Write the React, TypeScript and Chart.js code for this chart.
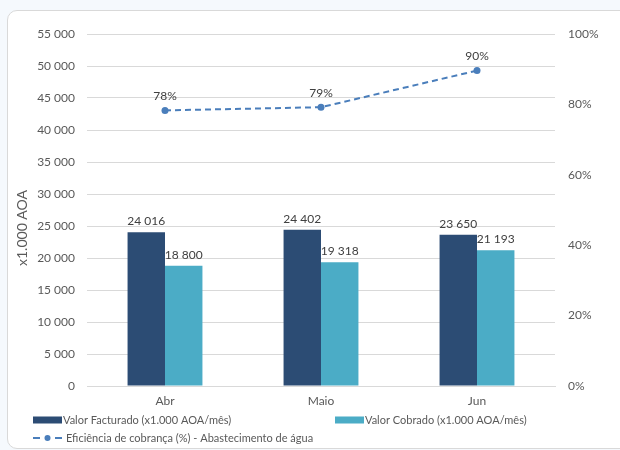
import React, { useEffect, useRef } from "react";
import { Chart, registerables } from "chart.js";

Chart.register(...registerables);

const categories = ["Abr", "Maio", "Jun"];
const facturado = [24016, 24402, 23650];
const cobrado = [18800, 19318, 21193];
const eficiencia = [78.3, 79.2, 89.6];
const eficienciaLabels = ["78%", "79%", "90%"];
const axisTitle = "x1.000 AOA";
const legendNames = [
  "Valor Facturado (x1.000 AOA/mês)",
  "Valor Cobrado (x1.000 AOA/mês)",
  "Eficiência de cobrança (%) - Abastecimento de água",
];

const DARK = "#2c4c74";
const LIGHT = "#4bacc6";
const LINE = "#4a7ebb";
const TEXT = "#595959";
const FONT = "Lato, 'Open Sans', sans-serif";

const fmt = (v: number) => {
  const s = Math.round(v).toString();
  return s.replace(/\B(?=(\d{3})+(?!\d))/g, " ");
};

const labelsPlugin = {
  id: "customLabels",
  afterDatasetsDraw(chart: any) {
    const ctx = chart.ctx;
    ctx.save();
    ctx.font = `12px ${FONT}`;
    ctx.fillStyle = "#404040";
    ctx.textAlign = "center";
    ctx.textBaseline = "bottom";
    [0, 1].forEach((di) => {
      const meta = chart.getDatasetMeta(di);
      meta.data.forEach((el: any, i: number) => {
        const v = chart.data.datasets[di].data[i];
        ctx.fillText(fmt(v), el.x, el.y - 5);
      });
    });
    const lm = chart.getDatasetMeta(2);
    lm.data.forEach((el: any, i: number) => {
      ctx.fillText(eficienciaLabels[i], el.x, el.y - 8);
    });
    ctx.restore();
  },
  afterDraw(chart: any) {
    const ctx = chart.ctx;
    ctx.save();
    // axis title
    ctx.save();
    ctx.translate(22, 228);
    ctx.rotate(-Math.PI / 2);
    ctx.font = `14px ${FONT}`;
    ctx.fillStyle = TEXT;
    ctx.textAlign = "center";
    ctx.textBaseline = "middle";
    ctx.fillText(axisTitle, 0, 0);
    ctx.restore();

    ctx.font = `11px ${FONT}`;
    ctx.textBaseline = "middle";
    ctx.textAlign = "left";
    const y1 = 420;
    const y2 = 438;
    ctx.fillStyle = DARK;
    ctx.fillRect(33, y1 - 3.5, 29, 7);
    ctx.fillStyle = TEXT;
    ctx.fillText(legendNames[0], 63, y1);
    ctx.fillStyle = LIGHT;
    ctx.fillRect(335, y1 - 3.5, 29, 7);
    ctx.fillStyle = TEXT;
    ctx.fillText(legendNames[1], 365, y1);
    ctx.strokeStyle = LINE;
    ctx.lineWidth = 2;
    ctx.beginPath();
    ctx.moveTo(33, y2);
    ctx.lineTo(40, y2);
    ctx.moveTo(55, y2);
    ctx.lineTo(62, y2);
    ctx.stroke();
    ctx.fillStyle = LINE;
    ctx.beginPath();
    ctx.arc(47.5, y2, 3, 0, Math.PI * 2);
    ctx.fill();
    ctx.fillStyle = TEXT;
    ctx.fillText(legendNames[2], 66, y2);
    ctx.restore();
  },
};

export default function App() {
  const ref = useRef<HTMLCanvasElement | null>(null);
  useEffect(() => {
    if (!ref.current) return;
    const chart = new Chart(ref.current, {
      type: "bar",
      data: {
        labels: categories,
        datasets: [
          {
            type: "bar",
            label: legendNames[0],
            data: facturado,
            backgroundColor: DARK,
            yAxisID: "y",
            order: 2,
          },
          {
            type: "bar",
            label: legendNames[1],
            data: cobrado,
            backgroundColor: LIGHT,
            yAxisID: "y",
            order: 2,
          },
          {
            type: "line",
            label: legendNames[2],
            data: eficiencia,
            borderColor: LINE,
            backgroundColor: LINE,
            borderWidth: 2,
            borderDash: [6, 4],
            pointRadius: 3.5,
            pointBackgroundColor: LINE,
            pointBorderWidth: 0,
            yAxisID: "y1",
            order: 1,
          } as any,
        ],
      },
      options: {
        animation: false,
        responsive: false,
        maintainAspectRatio: false,
        layout: { padding: { left: 12, right: 0, top: 34, bottom: 42 } },
        datasets: {
          bar: { categoryPercentage: 0.48, barPercentage: 1 },
        } as any,
        plugins: {
          legend: { display: false },
          tooltip: { enabled: false },
        },
        scales: {
          x: {
            grid: { display: false, drawTicks: false },
            border: { display: true, color: "#d9d9d9" },
            ticks: { color: TEXT, font: { size: 12, family: FONT }, padding: 8 },
            afterFit: (s: any) => {
              s.height = 22;
            },
          },
          y: {
            position: "left",
            min: 0,
            max: 55000,
            grid: { color: "#d9d9d9", drawTicks: false },
            border: { display: false },
            ticks: {
              stepSize: 5000,
              color: TEXT,
              font: { size: 12, family: FONT },
              padding: 12,
              callback: (v: any) => fmt(Number(v)),
            },
            afterFit: (s: any) => {
              s.width = 75;
            },
          },
          y1: {
            position: "right",
            min: 0,
            max: 100,
            grid: { display: false, drawTicks: false },
            border: { display: false },
            ticks: {
              stepSize: 20,
              color: TEXT,
              font: { size: 12, family: FONT },
              padding: 13,
              callback: (v: any) => `${v}%`,
            },
            afterFit: (s: any) => {
              s.width = 65;
            },
          },
        },
      },
      plugins: [labelsPlugin],
    });
    return () => chart.destroy();
  }, []);

  return (
    <div
      style={{
        position: "fixed",
        left: 0,
        top: 0,
        width: 620,
        height: 450,
        background: "#f5f9fd",
        overflow: "hidden",
      }}
    >
      <div
        style={{
          position: "absolute",
          left: 7,
          top: 10,
          width: 640,
          height: 437,
          background: "#ffffff",
          border: "1px solid #d9d9d9",
          borderRadius: 10,
        }}
      />
      <canvas
        ref={ref}
        width={620}
        height={450}
        style={{ position: "absolute", left: 0, top: 0, width: 620, height: 450 }}
      />
    </div>
  );
}
